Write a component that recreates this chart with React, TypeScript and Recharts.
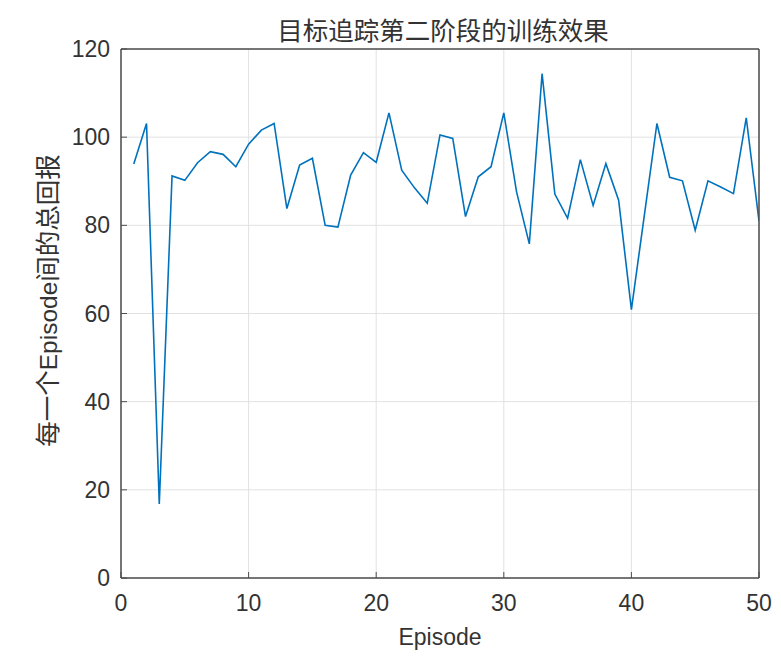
import React from "react";
import { LineChart, Line, XAxis, YAxis, CartesianGrid, Label } from "recharts";

const episodes = [
  1, 2, 3, 4, 5, 6, 7, 8, 9, 10,
  11, 12, 13, 14, 15, 16, 17, 18, 19, 20,
  21, 22, 23, 24, 25, 26, 27, 28, 29, 30,
  31, 32, 33, 34, 35, 36, 37, 38, 39, 40,
  41, 42, 43, 44, 45, 46, 47, 48, 49, 50,
];
const rewards = [
  93.9, 103.1, 16.8, 91.2, 90.2, 94.2, 96.7, 96.1, 93.3, 98.4,
  101.6, 103.1, 83.8, 93.7, 95.2, 80.0, 79.6, 91.4, 96.5, 94.3,
  105.5, 92.5, 88.5, 85.0, 100.5, 99.7, 82.0, 91.0, 93.3, 105.5,
  87.6, 75.8, 114.4, 87.1, 81.6, 94.9, 84.5, 94.0, 85.7, 60.9,
  82.0, 103.1, 90.9, 90.1, 78.9, 90.1, 88.7, 87.2, 104.4, 81.0,
];
const xTicks = [0, 10, 20, 30, 40, 50];
const yTicks = [0, 20, 40, 60, 80, 100, 120];

const titleText = "目标追踪第二阶段的训练效果";
const xLabelText = "Episode";
const yLabelParts = ["每一个", "Episode", "间的总回报"];

const data = episodes.map((e, i) => ({ episode: e, reward: rewards[i] }));

const LATIN = "'Liberation Sans', Arial, 'Noto Sans CJK SC', sans-serif";
const CJK = "'Noto Sans CJK SC', 'Liberation Sans', sans-serif";
const TEXT = "#333333";
const AXIS = "#4d4d4d";

const TitleLabel = (props: any) => {
  const vb = props.viewBox || {};
  const cx = vb.x + vb.width / 2 + 3;
  const y = vb.y + vb.height - 9.5;
  return (
    <text x={cx} y={y} textAnchor="middle" fontFamily={CJK} fontSize={25.5} fill={TEXT}>
      {titleText}
    </text>
  );
};

const YLabel = (props: any) => {
  const vb = props.viewBox || {};
  const x = 48.5;
  const y = vb.y + vb.height / 2 - 13;
  return (
    <text
      x={x}
      y={y}
      transform={`rotate(-90, ${x}, ${y})`}
      textAnchor="middle"
      fontFamily={LATIN}
      fontSize={24.5}
      fill={TEXT}
    >
      <tspan fontFamily={CJK} fontSize={25.5}>{yLabelParts[0]}</tspan>
      <tspan>{yLabelParts[1]}</tspan>
      <tspan fontFamily={CJK} fontSize={25.5}>{yLabelParts[2]}</tspan>
    </text>
  );
};

const XLabel = (props: any) => {
  const vb = props.viewBox || {};
  const cx = vb.x + vb.width / 2;
  return (
    <text x={cx} y={vb.y + 67} textAnchor="middle" fontFamily={LATIN} fontSize={23} fill={TEXT}>
      {xLabelText}
    </text>
  );
};

export default function App() {
  return (
    <div style={{ width: 765, height: 643, background: "#ffffff" }}>
      <LineChart
        width={765}
        height={643}
        data={data}
        margin={{ top: 40, right: 13, left: 0, bottom: 0 }}
      >
        <CartesianGrid stroke="#e2e2e2" strokeWidth={1} />
        <XAxis
          dataKey="episode"
          type="number"
          domain={[0, 50]}
          ticks={xTicks}
          height={73}
          tickSize={-6}
          tickMargin={23}
          axisLine={{ stroke: AXIS, strokeWidth: 1.5 }}
          tickLine={{ stroke: AXIS }}
          tick={{ fill: TEXT, fontSize: 23, fontFamily: LATIN }}
          allowDataOverflow
        >
          <Label content={XLabel} />
        </XAxis>
        <XAxis
          xAxisId="top"
          dataKey="episode"
          orientation="top"
          type="number"
          domain={[0, 50]}
          ticks={xTicks}
          height={1}
          tickSize={-6}
          tick={false}
          axisLine={{ stroke: AXIS, strokeWidth: 1.5 }}
          tickLine={{ stroke: AXIS }}
        >
          <Label content={TitleLabel} />
        </XAxis>
        <YAxis
          type="number"
          domain={[0, 120]}
          ticks={yTicks}
          width={113}
          tickSize={-6}
          tickMargin={17}
          axisLine={{ stroke: AXIS, strokeWidth: 1.5 }}
          tickLine={{ stroke: AXIS }}
          tick={{ fill: TEXT, fontSize: 23, fontFamily: LATIN }}
          allowDataOverflow
        >
          <Label content={YLabel} />
        </YAxis>
        <YAxis
          yAxisId="right"
          orientation="right"
          type="number"
          domain={[0, 120]}
          ticks={yTicks}
          width={1}
          tickSize={-6}
          tick={false}
          axisLine={{ stroke: AXIS, strokeWidth: 1.5 }}
          tickLine={{ stroke: AXIS }}
        />
        <Line
          type="linear"
          dataKey="reward"
          stroke="#0072BD"
          strokeWidth={1.6}
          dot={false}
          isAnimationActive={false}
        />
      </LineChart>
    </div>
  );
}
